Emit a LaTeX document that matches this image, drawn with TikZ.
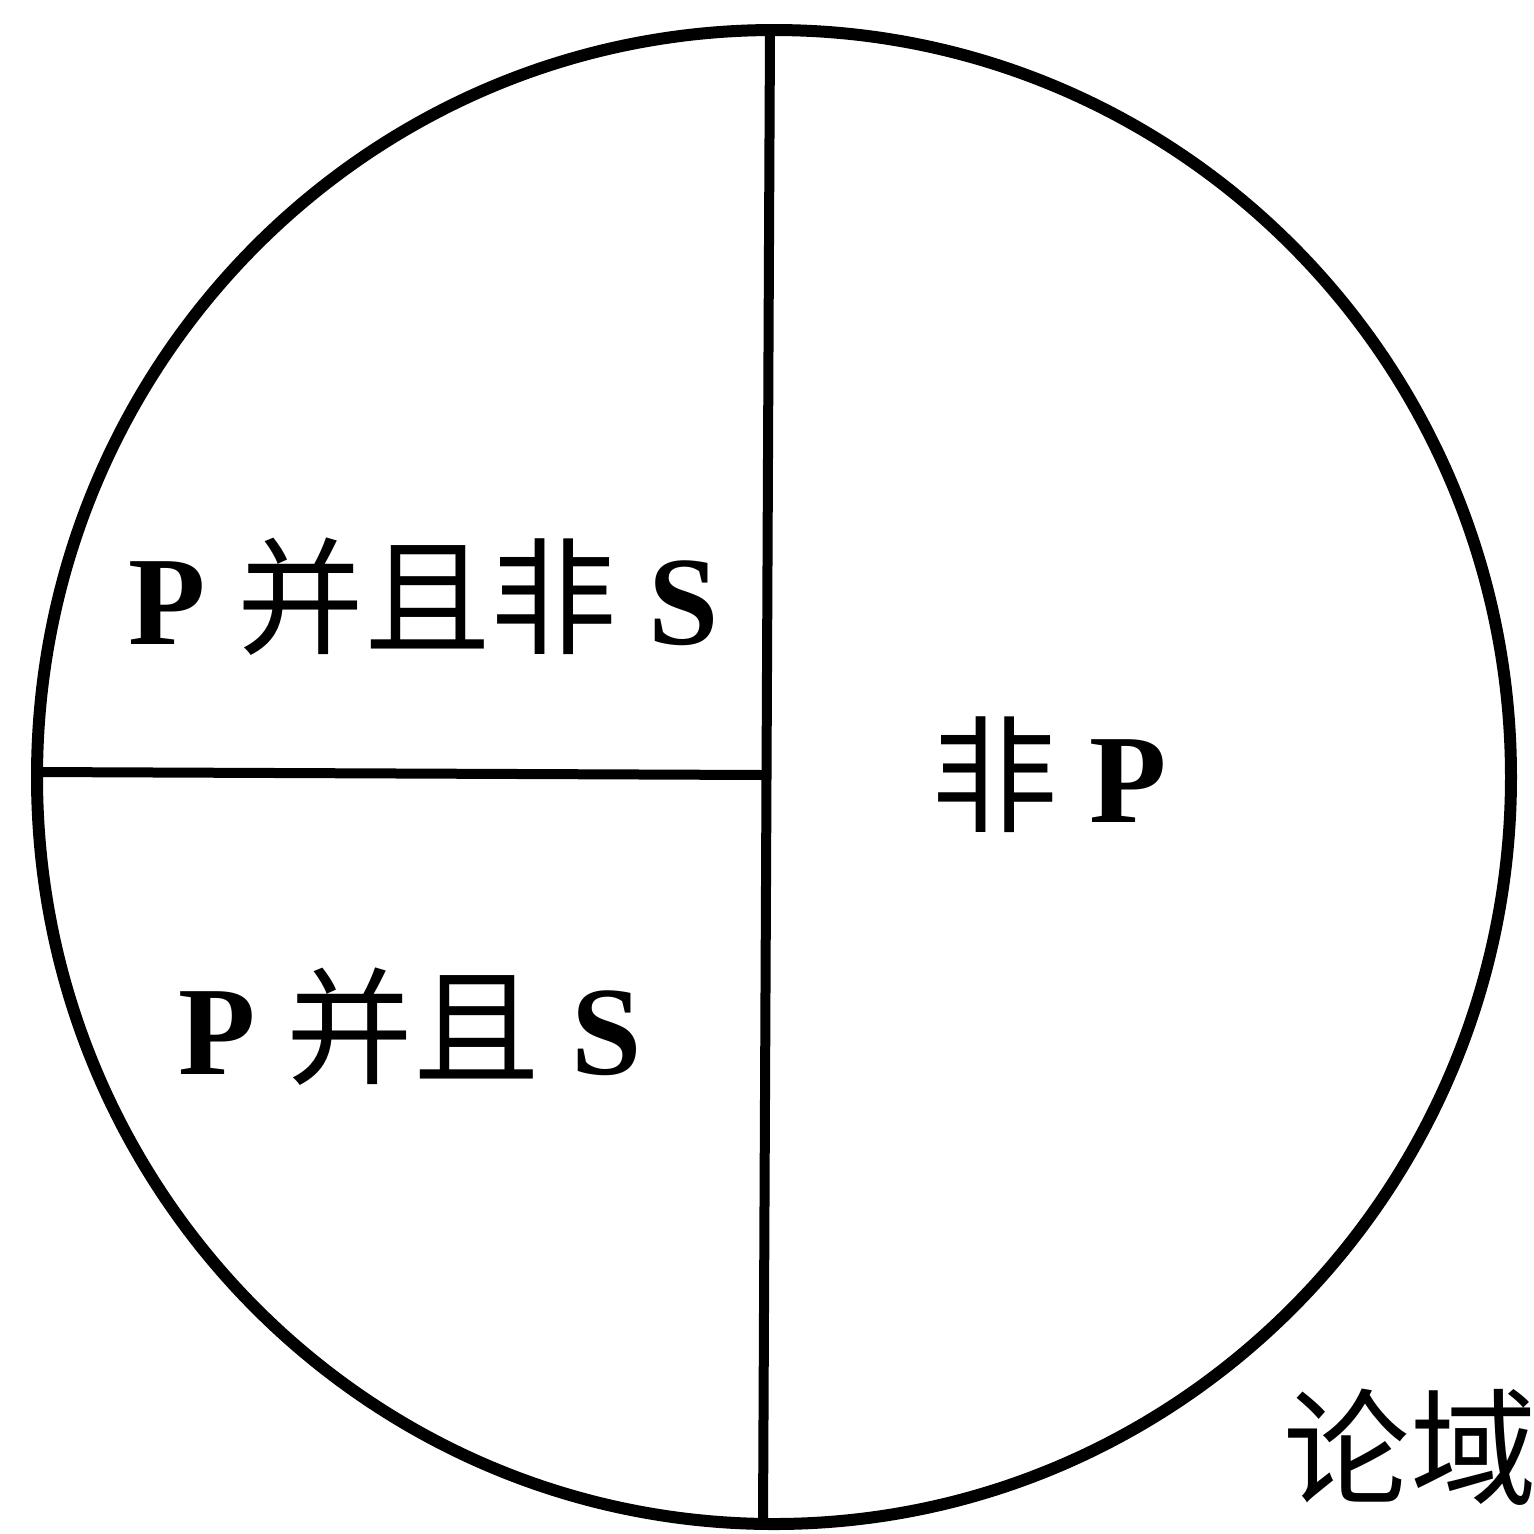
\documentclass[tikz,border=0pt]{standalone}
\usepackage{fontspec}
\setmainfont{Liberation Serif}
\newfontfamily\cjk{Noto Sans CJK SC}
\newcommand{\hanzi}[1]{{\cjk\mdseries #1}}
\usepackage{tikz}
\usetikzlibrary{positioning}
\definecolor{venninkblack}{HTML}{000000}
\tikzstyle{region} = [text=venninkblack, font=\fontsize{36}{40}\selectfont\bfseries, inner sep=0pt]
\tikzstyle{border} = [draw=venninkblack, line width=1.2mm]
\tikzstyle{divider} = [draw=venninkblack, line width=1.0mm]

\begin{document}
\begin{tikzpicture}[x=0.1mm, y=-0.1mm]
\useasboundingbox (0,0) rectangle (1534,1533);
\coordinate (centre) at (774,777);
\coordinate (top) at (770,30);
\coordinate (bottom) at (763,1525);
\coordinate (left) at (37,772);
\coordinate (split) at (766,775);
\draw[border] (centre) ellipse [x radius=7.37cm, y radius=7.47cm];
\draw[divider] (top) -- (bottom);
\draw[divider] (left) -- (split);
\node[region] (pnots) at (424,597) {P \hanzi{并且非} S};
\node[region] (pands) at (410,1027) {P \hanzi{并且} S};
\node[region] (notp) at (1049,775) {\hanzi{非} P};
\node[region, anchor=west] (universe) at (1283,1447) {\hanzi{论域}};
\end{tikzpicture}
\end{document}
